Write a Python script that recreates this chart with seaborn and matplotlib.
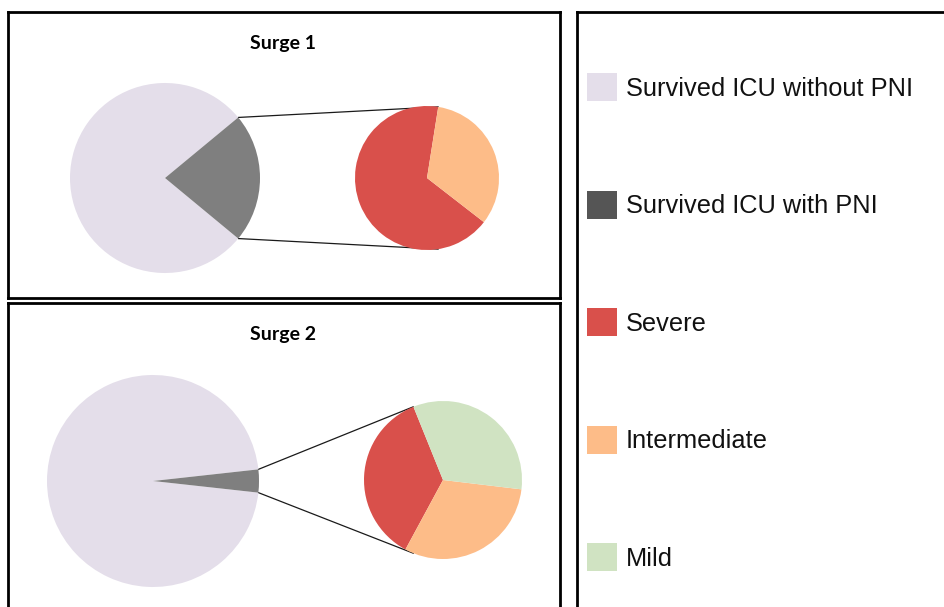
import matplotlib.pyplot as plt
import numpy as np
import seaborn as sns
from matplotlib.patches import Patch

# Data (shares in percent)
surges = ["Surge 1", "Surge 2"]
main_labels = ["Survived ICU without PNI", "Survived ICU with PNI"]
surge1_main = [78, 22]
surge2_main = [96.5, 3.5]
severity_labels = ["Severe", "Intermediate", "Mild"]
surge1_severity = [67, 33, 0]
surge2_severity = [36, 31, 33]

W, H = 945, 607
sns.set_theme(style="white")

colors = {
    "Survived ICU without PNI": "#E4DEEA",
    "Survived ICU with PNI": "#7F7F7F",
    "Severe": "#D9504B",
    "Intermediate": "#FDBC88",
    "Mild": "#D0E3C2",
}
legend_colors = dict(colors)
legend_colors["Survived ICU with PNI"] = "#555555"

fig = plt.figure(figsize=(W / 100, H / 100), dpi=100)
fig.patch.set_facecolor("white")

# layout in pixels: (box left, top, right, bottom), pie centres, radii, secondary start angle
panels = [
    dict(box=(8, 12, 560, 298), main=surge1_main, sev=surge1_severity,
         c1=(165, 178), r1=95, c2=(427, 178), r2=72, start2=81, title_y=43),
    dict(box=(8, 303, 560, 612), main=surge2_main, sev=surge2_severity,
         c1=(153, 481), r1=106, c2=(443, 480), r2=79, start2=112, title_y=334),
]


def add_px_axes(box):
    l, t, r, b = box
    ax = fig.add_axes([l / W, 1 - b / H, (r - l) / W, (b - t) / H])
    ax.set_xlim(0, r - l)
    ax.set_ylim(0, b - t)
    return ax


for title, p in zip(surges, panels):
    ax = add_px_axes(p["box"])
    l, t, r, b = p["box"]
    to_ax = lambda pt: (pt[0] - l, b - pt[1])
    c1, c2 = to_ax(p["c1"]), to_ax(p["c2"])

    main = np.array(p["main"], dtype=float)
    start1 = 180 * main[1] / main.sum()
    w1, _ = ax.pie(main, colors=[colors[k] for k in main_labels], center=c1,
                   radius=p["r1"], startangle=start1, counterclock=True,
                   wedgeprops=dict(linewidth=0), frame=True)
    w2, _ = ax.pie(p["sev"], colors=[colors[k] for k in severity_labels], center=c2,
                   radius=p["r2"], startangle=p["start2"], counterclock=True,
                   wedgeprops=dict(linewidth=0), frame=True)

    # connector lines from the PNI wedge to the secondary pie
    pni = w1[1]
    a2 = np.deg2rad(w2[0].theta1)
    for ang, sgn in [(pni.theta1, -1), (pni.theta2, 1)]:
        a = np.deg2rad(ang)
        x0, y0 = c1[0] + p["r1"] * np.cos(a), c1[1] + p["r1"] * np.sin(a)
        x1 = c2[0] + p["r2"] * np.cos(a2)
        y1 = c2[1] + sgn * p["r2"] * np.sin(a2)
        ax.plot([x0, x1], [y0, y1], color="#1a1a1a", lw=0.9, zorder=0)

    ax.set_xlim(0, r - l)
    ax.set_ylim(0, b - t)
    ax.set_aspect("auto")
    ax.set_xticks([])
    ax.set_yticks([])
    for s in ax.spines.values():
        s.set_visible(True)
        s.set_color("black")
        s.set_linewidth(2.0)
    ax.text((r - l) / 2 - 1, b - p["title_y"], title, ha="center", va="center",
            fontsize=14, fontweight="bold", color="black",
            family=["Lato", "DejaVu Sans"])

# legend box
lax = add_px_axes((577, 12, 952, 614))
lax.set_xticks([])
lax.set_yticks([])
for s in lax.spines.values():
    s.set_color("black")
    s.set_linewidth(2.0)
handles = [Patch(facecolor=legend_colors[k], edgecolor="none")
           for k in main_labels + severity_labels]
lax.legend(handles, main_labels + severity_labels, loc="upper left",
           bbox_to_anchor=(10 / 375, 1 - 61 / 602), frameon=False,
           prop=dict(family=["Liberation Sans", "DejaVu Sans"], size=18.3),
           labelcolor="#111111", labelspacing=3.52, handlelength=1.18,
           handleheight=1.32, handletextpad=0.35, borderaxespad=0, borderpad=0)

fig.savefig("out.png", dpi=100, facecolor="white")
